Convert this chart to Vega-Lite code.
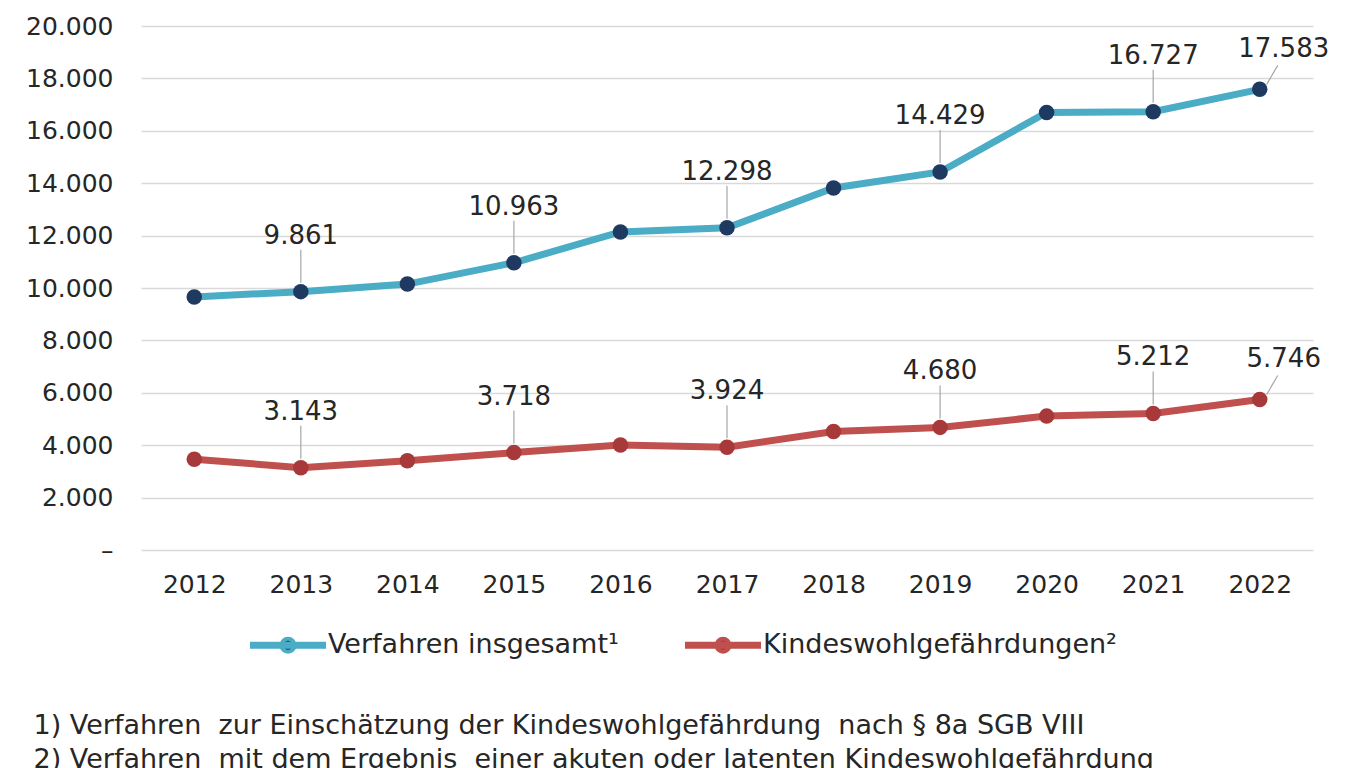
{
  "$schema": "https://vega.github.io/schema/vega-lite/v6.json",
  "width": 1172,
  "height": 524,
  "padding": {"left": 25, "top": 14, "right": 0, "bottom": 0},
  "background": "white",
  "config": {
    "locale": {"number": {"decimal": ",", "thousands": ".", "grouping": [3], "currency": ["", " €"]}},
    "view": {"stroke": null},
    "font": "DejaVu Sans",
    "axis": {"labelFont": "DejaVu Sans", "labelFontSize": 25, "labelColor": "#262626", "domain": false, "ticks": false, "title": null}
  },
  "title": {
    "text": ["1) Verfahren\u00a0 zur Einschätzung der Kindeswohlgefährdung\u00a0 nach § 8a SGB VIII", "2) Verfahren\u00a0 mit dem Ergebnis\u00a0 einer akuten oder latenten Kindeswohlgefährdung"],
    "orient": "bottom", "anchor": "start", "frame": "bounds",
    "font": "DejaVu Sans", "fontSize": 27, "fontWeight": "normal",
    "color": "#262626", "lineHeight": 34, "offset": 53, "dx": 8, "baseline": "top"
  },
  "data": {"values": [
    {"year": "2012", "series": "Verfahren insgesamt¹", "value": 9660},
    {"year": "2013", "series": "Verfahren insgesamt¹", "value": 9861},
    {"year": "2014", "series": "Verfahren insgesamt¹", "value": 10150},
    {"year": "2015", "series": "Verfahren insgesamt¹", "value": 10963},
    {"year": "2016", "series": "Verfahren insgesamt¹", "value": 12140},
    {"year": "2017", "series": "Verfahren insgesamt¹", "value": 12298},
    {"year": "2018", "series": "Verfahren insgesamt¹", "value": 13820},
    {"year": "2019", "series": "Verfahren insgesamt¹", "value": 14429},
    {"year": "2020", "series": "Verfahren insgesamt¹", "value": 16700},
    {"year": "2021", "series": "Verfahren insgesamt¹", "value": 16727},
    {"year": "2022", "series": "Verfahren insgesamt¹", "value": 17583},
    {"year": "2012", "series": "Kindeswohlgefährdungen²", "value": 3465},
    {"year": "2013", "series": "Kindeswohlgefährdungen²", "value": 3143},
    {"year": "2014", "series": "Kindeswohlgefährdungen²", "value": 3405},
    {"year": "2015", "series": "Kindeswohlgefährdungen²", "value": 3718},
    {"year": "2016", "series": "Kindeswohlgefährdungen²", "value": 4010},
    {"year": "2017", "series": "Kindeswohlgefährdungen²", "value": 3924},
    {"year": "2018", "series": "Kindeswohlgefährdungen²", "value": 4520},
    {"year": "2019", "series": "Kindeswohlgefährdungen²", "value": 4680},
    {"year": "2020", "series": "Kindeswohlgefährdungen²", "value": 5110},
    {"year": "2021", "series": "Kindeswohlgefährdungen²", "value": 5212},
    {"year": "2022", "series": "Kindeswohlgefährdungen²", "value": 5746}
  ]},
  "encoding": {
    "x": {"field": "year", "type": "ordinal", "scale": {"type": "point", "padding": 0.5},
          "axis": {"labelAngle": 0, "labelPadding": 22, "grid": false}},
    "y": {"field": "value", "type": "quantitative", "scale": {"domain": [0, 20000]},
          "axis": {"values": [0, 2000, 4000, 6000, 8000, 10000, 12000, 14000, 16000, 18000, 20000],
                   "grid": true, "gridColor": "#D9D9D9", "gridWidth": 1.5, "labelPadding": 28,
                   "format": ",d", "labelExpr": "datum.value == 0 ? '–' : datum.label"}}
  },
  "layer": [
    {
      "mark": {"type": "line", "strokeWidth": 7},
      "encoding": {
        "color": {"field": "series", "type": "nominal",
          "scale": {"domain": ["Verfahren insgesamt¹", "Kindeswohlgefährdungen²"], "range": ["#4BACC6", "#C0504D"]},
          "legend": {
            "orient": "none", "legendX": 109, "legendY": 581, "direction": "horizontal", "title": null,
            "symbolType": "M-1,-0.04H1V0.04H-1Z M-0.18,0A0.18,0.18,0,1,0,0.18,0A0.18,0.18,0,1,0,-0.18,0Z",
            "symbolSize": 5184, "symbolStrokeWidth": 4,
            "labelFont": "DejaVu Sans", "labelFontSize": 27,
            "labelColor": "#262626", "labelOffset": 2, "columnPadding": 60, "labelLimit": 500
          }}
      }
    },
    {
      "mark": {"type": "circle", "size": 240, "opacity": 1},
      "encoding": {
        "fill": {"field": "series", "type": "nominal",
          "scale": {"domain": ["Verfahren insgesamt¹", "Kindeswohlgefährdungen²"], "range": ["#1F3A60", "#A8393A"]},
          "legend": null}
      }
    },
    {
      "transform": [{"filter": {"field": "year", "oneOf": ["2013", "2015", "2017", "2019", "2021"]}}],
      "mark": {"type": "rule", "color": "#A6A6A6", "strokeWidth": 1.2, "yOffset": -9, "y2Offset": -42},
      "encoding": {"x2": {"field": "year"}, "y2": {"field": "value"}}
    },
    {
      "transform": [{"filter": {"field": "year", "oneOf": ["2022"]}}],
      "mark": {"type": "rule", "color": "#A6A6A6", "strokeWidth": 1.2, "xOffset": 7, "yOffset": -5, "x2Offset": 18, "y2Offset": -24},
      "encoding": {"x2": {"field": "year"}, "y2": {"field": "value"}}
    },
    {
      "transform": [{"filter": {"field": "year", "oneOf": ["2013", "2015", "2017", "2019", "2021"]}}],
      "mark": {"type": "text", "dy": -56, "fontSize": 26, "color": "#262626", "font": "DejaVu Sans"},
      "encoding": {"text": {"field": "value", "type": "quantitative", "format": ",d"}}
    },
    {
      "transform": [{"filter": {"field": "year", "oneOf": ["2022"]}}],
      "mark": {"type": "text", "dy": -40, "dx": 24, "fontSize": 26, "color": "#262626", "font": "DejaVu Sans"},
      "encoding": {"text": {"field": "value", "type": "quantitative", "format": ",d"}}
    }
  ]
}
